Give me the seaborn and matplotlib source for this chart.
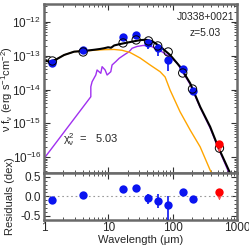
import numpy as np
import pandas as pd
import matplotlib
matplotlib.use("Agg")
import matplotlib.pyplot as plt
import matplotlib.ticker as mticker
import seaborn as sns

# %% values (flux as log10 of erg s^-1 cm^-2)
lam_total = [1.0, 1.24, 1.54, 2.05, 2.93, 4.19, 6.0, 7.43, 8.57, 9.89, 11.0, 12.3, 14.7, 17.5,
             23.4, 31.1, 38.6, 47.8, 63.7, 91.0, 130, 187, 267, 382, 508, 781, 839]
logf_total = [-13.147, -13.176, -13.111, -12.978, -12.880, -12.859, -12.824, -12.800, -12.779,
              -12.750, -12.764, -12.696, -12.661, -12.631, -12.584, -12.539, -12.527, -12.569,
              -12.726, -12.978, -13.324, -13.816, -14.510, -15.102, -15.695, -16.474, -16.62]

lam_agn = [1.0, 1.24, 1.54, 2.05, 2.93, 4.19, 6.0, 8.57, 12.3, 16.3, 21.7, 31.1, 44.5, 63.7,
           76.2, 91.0, 130, 187, 267, 382, 456]
logf_agn = [-13.147, -13.170, -13.111, -12.978, -12.880, -12.859, -12.839, -12.821, -12.815,
            -12.839, -12.904, -13.067, -13.274, -13.473, -13.630, -14.015, -14.658, -15.200,
            -15.695, -16.385, -16.681]

lam_sf = [1.0, 5.33, 5.33, 5.58, 6.37, 6.67, 7.62, 7.98, 8.89, 9.55, 10.9, 11.4, 13.0, 14.7,
          17.5, 21.0, 23.4, 27.9, 34.6, 44.5, 57.2, 70.9, 91.2, 117, 187, 267, 382, 508, 839]
logf_sf = [-16.039, -14.213, -13.917, -13.769, -13.570, -13.422, -13.520, -13.324, -13.422,
           -13.570, -13.473, -13.274, -13.176, -13.076, -12.978, -12.880, -12.779, -12.726,
           -12.696, -12.711, -12.800, -12.904, -13.037, -13.215, -13.852, -14.533, -15.141,
           -15.719, -16.681]

lam_obs = [1.35, 4.05, 16.9, 27.0, 42.0, 58.5, 85.0, 143, 203]
logf_obs = [-13.224, -12.830, -12.436, -12.385, -12.613, -12.779, -13.126, -13.401, -14.036]
err_lo_dex = [0, 0, 0, 0, 0.20, 0.23, 0.32, 0.05, 0]
err_hi_dex = [0, 0, 0, 0, 0.05, 0.05, 0.05, 0.03, 0]

lam_mod = [1.35, 4.05, 16.9, 27.0, 42.0, 58.5, 85.0, 143, 203, 533]
logf_mod = [-13.156, -12.889, -12.622, -12.533, -12.563, -12.711, -12.889, -13.511, -13.985, -15.733]

lam_lim = [533]
logf_lim = [-15.624]
logf_lim_arrow = [-15.96]

res = [-0.09, 0.04, 0.18, 0.22, -0.05, -0.11, -0.22, 0.11, -0.07]
res_lo = [0, 0, 0, 0, 0.16, 0.18, 0.5, 0.04, 0]
res_hi = [0, 0, 0, 0, 0.12, 0.17, 0.22, 0.0, 0]
res_lim = [0.12]
res_lim_arrow = [-0.18]

flux_ticks = [1e-16, 1e-15, 1e-14, 1e-13, 1e-12]
wave_ticks = [1, 10, 100, 1000]
res_ticks = [-0.5, 0.0, 0.5]

name = "J0338+0021"
redshift = "z=5.03"
chi2 = "5.03"

# %% styling
sns.set_style("ticks")
plt.rcParams["font.family"] = ["Liberation Sans", "DejaVu Sans"]
plt.rcParams["mathtext.fontset"] = "custom"
plt.rcParams["mathtext.rm"] = "Liberation Sans"
plt.rcParams["mathtext.it"] = "Liberation Sans:italic"
plt.rcParams["mathtext.default"] = "regular"

frame_col = "#6a6a6a"
blue = "#0a14f0"
orange = "#ffa500"
purple = "#a030f0"
msize = 36

fig = plt.figure(figsize=(2.49, 2.49), dpi=100)
ax = fig.add_axes([0.177, 0.305, 0.775, 0.679])
axr = fig.add_axes([0.177, 0.118, 0.775, 0.187])

for a in (ax, axr):
    a.set_xscale("log")
    a.set_xlim(1, 1000)
ax.set_yscale("log")
ax.set_ylim(10 ** -16.47, 10 ** -11.47)
axr.set_ylim(-0.6, 0.6)

# %% top panel
df_sf = pd.DataFrame({"lam": lam_sf, "f": 10 ** np.array(logf_sf)})
df_agn = pd.DataFrame({"lam": lam_agn, "f": 10 ** np.array(logf_agn)})
df_tot = pd.DataFrame({"lam": lam_total, "f": 10 ** np.array(logf_total)})
sns.lineplot(data=df_sf, x="lam", y="f", ax=ax, sort=False, estimator=None, color=purple, lw=1.0)
sns.lineplot(data=df_agn, x="lam", y="f", ax=ax, sort=False, estimator=None, color=orange, lw=1.0)
sns.lineplot(data=df_tot, x="lam", y="f", ax=ax, sort=False, estimator=None, color="black", lw=1.5)

f_obs = 10 ** np.array(logf_obs)
yerr = [f_obs - f_obs * 10 ** -np.array(err_lo_dex), f_obs * 10 ** np.array(err_hi_dex) - f_obs]
ax.errorbar(lam_obs, f_obs, yerr=yerr, fmt="none", ecolor=blue, elinewidth=1.2, zorder=3)
sns.scatterplot(x=lam_obs, y=f_obs, ax=ax, color=blue, s=msize, linewidth=0, zorder=4)
sns.scatterplot(x=lam_mod, y=10 ** np.array(logf_mod), ax=ax, facecolor="none", edgecolor="black",
                s=msize, linewidth=0.7, zorder=5)
sns.scatterplot(x=lam_lim, y=10 ** np.array(logf_lim), ax=ax, color="red", s=msize, linewidth=0, zorder=6)
for lx, ly, la in zip(lam_lim, logf_lim, logf_lim_arrow):
    ax.annotate("", xy=(lx, 10 ** la), xytext=(lx, 10 ** ly),
                arrowprops=dict(arrowstyle="->", color="#ff5050", lw=0.7, mutation_scale=6))

ax.text(0.985, 0.925, name, transform=ax.transAxes, ha="right", va="center", fontsize=7.5)
ax.text(0.835, 0.828, redshift, transform=ax.transAxes, ha="center", va="center", fontsize=7.5)
ax.text(0.098, 0.20, "\u03c7$^{2}_{\u03bd}$  =   " + chi2, transform=ax.transAxes, ha="left",
        va="center", fontsize=8)

ax.set_ylabel("\u03bd f$_{\u03bd}$ (erg s$^{-1}$cm$^{-2}$)", fontsize=8)
ax.yaxis.set_label_coords(-0.15, 0.5)
ax.set_xlabel("")
ax.tick_params(labelbottom=False)
ax.yaxis.set_major_locator(mticker.FixedLocator(flux_ticks))
ax.yaxis.set_major_formatter(mticker.LogFormatterSciNotation())
ax.yaxis.set_minor_locator(mticker.LogLocator(base=10, subs=np.arange(2, 10), numticks=20))
ax.yaxis.set_minor_formatter(mticker.NullFormatter())
ax.xaxis.set_major_locator(mticker.FixedLocator(wave_ticks))

# %% residual panel
axr.axhline(0, color="#999999", lw=0.8, ls=(0, (1.5, 2.5)), zorder=1)
axr.errorbar(lam_obs, res, yerr=[res_lo, res_hi], fmt="none", ecolor=blue, elinewidth=1.2, zorder=3)
sns.scatterplot(x=lam_obs, y=res, ax=axr, color=blue, s=msize, linewidth=0, zorder=4)
sns.scatterplot(x=lam_lim, y=res_lim, ax=axr, color="red", s=msize, linewidth=0, zorder=6)
for lx, ly, la in zip(lam_lim, res_lim, res_lim_arrow):
    axr.annotate("", xy=(lx, la), xytext=(lx, ly),
                 arrowprops=dict(arrowstyle="->", color="#ff5050", lw=0.7, mutation_scale=6))

axr.set_xlabel("Wavelength (\u03bcm)", fontsize=8, labelpad=0.5)
axr.set_ylabel("Residuals (dex)", fontsize=8)
axr.yaxis.set_label_coords(-0.15, 0.5)
axr.set_yticks(res_ticks)
axr.yaxis.set_major_formatter(mticker.FormatStrFormatter("%.1f"))
axr.yaxis.set_minor_locator(mticker.MultipleLocator(0.1))
axr.xaxis.set_major_locator(mticker.FixedLocator(wave_ticks))
axr.xaxis.set_major_formatter(mticker.FuncFormatter(lambda v, _: f"{v:g}"))
axr.xaxis.set_minor_formatter(mticker.NullFormatter())

for a in (ax, axr):
    a.tick_params(which="both", direction="in", top=True, right=True, labelsize=8.5,
                  color="#333333", pad=2)
    a.tick_params(which="major", length=4, width=0.8)
    a.tick_params(which="minor", length=2, width=0.6)
    for s in a.spines.values():
        s.set_color(frame_col)
        s.set_linewidth(1.8)

fig.savefig("out.png", dpi=100)
